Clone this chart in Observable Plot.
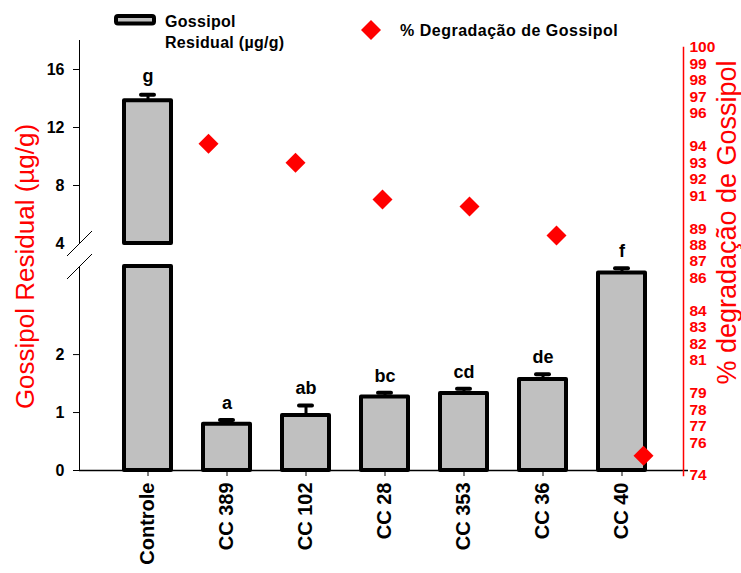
<!DOCTYPE html>
<html>
<head>
<meta charset="utf-8">
<script src="https://cdn.jsdelivr.net/npm/d3@7"></script>
<script src="https://cdn.jsdelivr.net/npm/@observablehq/plot@0.6"></script>
<style>
  body { margin: 0; background: #fff; }
  #chart { position: relative; width: 741px; height: 573px; overflow: hidden; background: #fff; }
  #chart > svg { position: absolute; left: 0; top: 0; }
</style>
</head>
<body>
<div id="chart"></div>
<script>
// ---- data ----
const categories = ["Controle", "CC 389", "CC 102", "CC 28", "CC 353", "CC 36", "CC 40"];
const residual = [13.84, 0.80, 0.95, 1.27, 1.33, 1.57, 3.41];
const residualErr = [0.42, 0.07, 0.17, 0.07, 0.08, 0.09, 0.08];
const letters = ["g", "a", "ab", "bc", "cd", "de", "f"];
const degradCategories = ["CC 389", "CC 102", "CC 28", "CC 353", "CC 36", "CC 40"];
const degradation = [94.15, 93.0, 90.77, 90.34, 88.58, 75.2];
const lowerTicks = [0, 1, 2];
const upperTicks = [8, 12, 16];
const upperBreakTick = [4];
const rightTicks = [74, 76, 77, 78, 79, 81, 82, 83, 84, 86, 87, 88, 89, 91, 92, 93, 94, 96, 97, 98, 99, 100];
const leftTitle = "Gossipol Residual (µg/g)";
const rightTitle = "% degradação de Gossipol";
const legendBar = ["Gossipol", "Residual (µg/g)"];
const legendDiamond = "% Degradação de Gossipol";

// ---- derived tables ----
const lowerDomain = [0, 3.52];
const upperDomain = [4, 18];
const rows = categories.map((c, i) => ({cat: c, value: residual[i], err: residualErr[i], letter: letters[i]}));
const lowerRows = rows.filter(d => d.value <= lowerDomain[1]);
const upperRows = rows.filter(d => d.value > upperDomain[0]);
const degRows = degradCategories.map((c, i) => ({cat: c, value: degradation[i]}));

const font = "'Liberation Sans', Arial, Helvetica, sans-serif";
const baseStyle = {background: "transparent", overflow: "visible", fontFamily: font, color: "black"};
const W = 741, H = 573;
const xBand = {type: "band", domain: categories, range: [107.5, 660.5], paddingInner: 0.41, paddingOuter: 0.205, align: 0.5};
const barFill = "#c0c0c0";
const slash = {draw(ctx, size) { const r = Math.sqrt(size / Math.PI); ctx.moveTo(-r, r); ctx.lineTo(r, -r); }};
const intFmt = d3.format("d");

const chart = document.getElementById("chart");

// lower segment of the broken axis
const lower = Plot.plot({
  width: W, height: H,
  marginTop: 266, marginBottom: 103, marginLeft: 79, marginRight: 53,
  style: baseStyle,
  x: xBand,
  y: {domain: lowerDomain},
  marks: [
    Plot.frame({anchor: "left", stroke: "black"}),
    Plot.barY(rows, {x: "cat", y1: 0, y2: d => Math.min(d.value, lowerDomain[1]), fill: barFill, stroke: "black", strokeWidth: 4, strokeLinejoin: "round"}),
    Plot.ruleX(lowerRows, {x: "cat", y1: "value", y2: d => d.value + d.err, stroke: "black", strokeWidth: 3}),
    Plot.tickY(lowerRows, {x: "cat", y: d => d.value + d.err, insetLeft: 17, insetRight: 17, stroke: "black", strokeWidth: 4, strokeLinecap: "round"}),
    Plot.text(lowerRows, {x: "cat", y: d => d.value + d.err, text: "letter", dy: -17, fontSize: 18, fontWeight: "bold", fill: "black"}),
    Plot.ruleY([0], {stroke: "black", strokeWidth: 1.5}),
    Plot.axisY({ticks: lowerTicks, tickFormat: intFmt, tickSize: 6, tickPadding: 9, fontSize: 16, fontWeight: "bold", label: null, color: "black"}),
    Plot.axisX({ticks: categories, tickSize: 6, tickPadding: 6, tickRotate: -90, fontSize: 20, fontWeight: "bold", label: null, color: "black"}),
    Plot.dot([0], {frameAnchor: "top-left", symbol: slash, r: 12.5, stroke: "black", fill: "none", strokeWidth: 1})
  ]
});

// upper segment of the broken axis
const upper = Plot.plot({
  width: W, height: H,
  marginTop: 40, marginBottom: 330, marginLeft: 79, marginRight: 53,
  style: baseStyle,
  x: {...xBand, axis: null},
  y: {domain: upperDomain},
  marks: [
    Plot.frame({anchor: "left", stroke: "black"}),
    Plot.barY(upperRows, {x: "cat", y1: upperDomain[0], y2: "value", fill: barFill, stroke: "black", strokeWidth: 4, strokeLinejoin: "round"}),
    Plot.ruleX(upperRows, {x: "cat", y1: "value", y2: d => d.value + d.err, stroke: "black", strokeWidth: 3}),
    Plot.tickY(upperRows, {x: "cat", y: d => d.value + d.err, insetLeft: 17, insetRight: 17, stroke: "black", strokeWidth: 4, strokeLinecap: "round"}),
    Plot.text(upperRows, {x: "cat", y: d => d.value + d.err, text: "letter", dy: -18, fontSize: 18, fontWeight: "bold", fill: "black"}),
    Plot.axisY({ticks: upperTicks, tickFormat: intFmt, tickSize: 6, tickPadding: 9, fontSize: 16, fontWeight: "bold", label: null, color: "black"}),
    Plot.axisY({ticks: upperBreakTick, tickFormat: intFmt, tickSize: 0, tickPadding: 15, fontSize: 16, fontWeight: "bold", label: null, color: "black"}),
    Plot.dot([0], {frameAnchor: "bottom-left", symbol: slash, r: 12.5, stroke: "black", fill: "none", strokeWidth: 1})
  ]
});

// right axis: % degradation
const right = Plot.plot({
  width: W, height: H,
  marginTop: 47, marginBottom: 98, marginLeft: 0, marginRight: 58,
  style: baseStyle,
  x: {type: "point", domain: degradCategories, range: [208, 643], padding: 0, axis: null},
  y: {domain: [74, 100]},
  marks: [
    Plot.frame({anchor: "right", stroke: "red", strokeWidth: 1.5}),
    Plot.axisY({anchor: "right", ticks: rightTicks, tickFormat: intFmt, tickSize: 0, tickPadding: 6, fontSize: 15.5, fontWeight: "bold", label: null, color: "red"}),
    Plot.dot(degRows, {x: "cat", y: "value", symbol: "diamond2", r: 9, fill: "red", stroke: "none"}),
    Plot.text([leftTitle], {text: d => d, frameAnchor: "left", textAnchor: "middle", rotate: -90, dx: 25, dy: 5, fill: "red", fontSize: 26}),
    Plot.text([rightTitle], {text: d => d, frameAnchor: "right", textAnchor: "middle", rotate: -90, dx: 44, dy: -39, fill: "red", fontSize: 27})
  ]
});

chart.append(upper, lower, right);

// legend
const ns = "http://www.w3.org/2000/svg";
const leg = document.createElementNS(ns, "svg");
leg.setAttribute("width", W); leg.setAttribute("height", 60);
leg.style.position = "absolute"; leg.style.left = "0"; leg.style.top = "0"; leg.style.fontFamily = font;
const mk = (tag, attrs, txt) => { const e = document.createElementNS(ns, tag); for (const k in attrs) e.setAttribute(k, attrs[k]); if (txt != null) e.textContent = txt; leg.appendChild(e); return e; };
mk("rect", {x: 116, y: 16, width: 38, height: 7.5, rx: 2, fill: barFill, stroke: "black", "stroke-width": 4});
mk("text", {x: 165, y: 21, "dominant-baseline": "central", "font-size": 16, "font-weight": "bold", "letter-spacing": 0.3}, legendBar[0]);
mk("text", {x: 165, y: 42, "dominant-baseline": "central", "font-size": 16, "font-weight": "bold", "letter-spacing": 0.3}, legendBar[1]);
mk("path", {d: d3.symbol(d3.symbolDiamond2, Math.PI * 81)(), transform: "translate(371,30)", fill: "red"});
mk("text", {x: 400, y: 30, "dominant-baseline": "central", "font-size": 16, "font-weight": "bold", "letter-spacing": 0.5}, legendDiamond);
chart.append(leg);
</script>
</body>
</html>
